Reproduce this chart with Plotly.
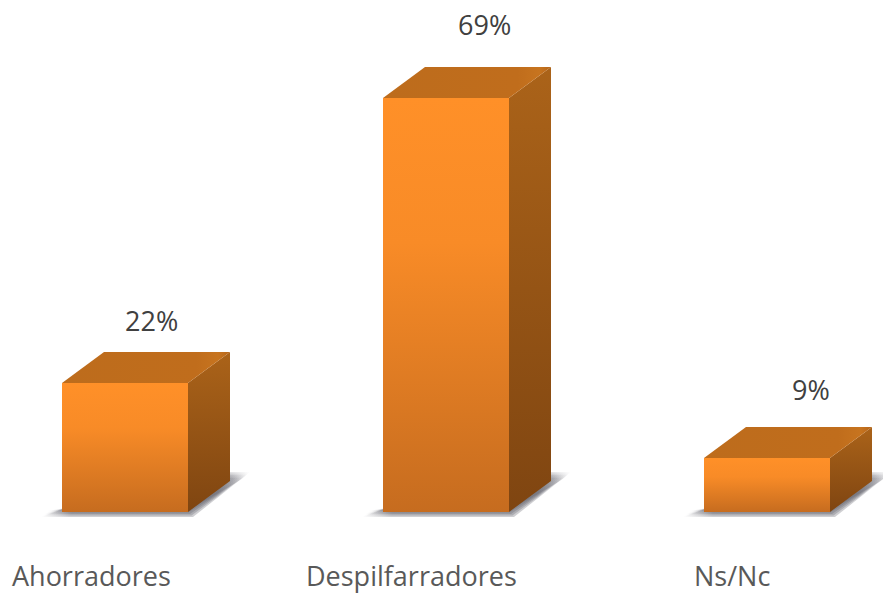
import plotly.graph_objects as go

categories = ["Ahorradores", "Despilfarradores", "Ns/Nc"]
values = [21.5, 69, 9]
value_labels = ["22%", "69%", "9%"]

W, H = 883, 594
PX_X = 321.0      # pixels per category step
PX_Y = 6.0        # pixels per percent
LEFT = 125        # pixel of first category centre
BASE = 512        # pixel of the zero line

BAR_W = 126 / PX_X
DX = 42 / PX_X
DY = 31 / PX_Y

label_dx = [26, 38, 44]
label_dy = [63, 74, 69]
cat_dx = [-34, -35, -35]

# plotly gradients run bottom to top, left to right
FRONT = [[0, "#c66c1f"], [0.65, "#f88b27"], [1, "#ff9028"]]
SIDE = [[0, "#7f4511"], [1, "#ab6319"]]
TOP = [[0, "#bd6c1c"], [0.8, "#c06d1c"], [0.93, "#c7741f"], [1, "#b5651a"]]

fig = go.Figure()
xs = list(range(len(values)))


def poly(px, py, scale, orient="vertical", name=""):
    fig.add_trace(go.Scatter(
        x=px + px[:1], y=py + py[:1], mode="lines", fill="toself",
        line=dict(width=0), hoverinfo="skip", showlegend=False, name=name,
        fillgradient=dict(type=orient, colorscale=scale),
    ))


# soft ground shadow, built from stacked translucent layers
for layer in range(5):
    g = 5 - layer * 1.5
    a = 0.3
    c = "95,95,105"
    shadow = [[0, f"rgba({c},0)"], [0.14, f"rgba({c},{a})"],
              [0.85, f"rgba({c},{a})"], [1, f"rgba({c},0)"]]
    for x0, v in zip(xs, values):
        l = x0 - BAR_W / 2
        r = x0 + BAR_W / 2
        poly([l - (16 + g) / PX_X, r + g / PX_X, r + (57 + g) / PX_X, r + 40 / PX_X, l + 4 / PX_X],
             [-g / PX_Y, -g / PX_Y, (35 + g) / PX_Y, (35 + g) / PX_Y, 4 / PX_Y],
             shadow, "horizontal", "shadow")

# front faces as real bars
fig.add_trace(go.Bar(x=xs, y=values, width=BAR_W, marker=dict(color="#e07c24", line=dict(width=0)),
                     hoverinfo="skip", showlegend=False, name="front"))

for x0, v in zip(xs, values):
    l = x0 - BAR_W / 2
    r = x0 + BAR_W / 2
    poly([l, r, r, l], [0, 0, v, v], FRONT, "vertical", "front")
    poly([r, r + DX, r + DX, r], [0, DY, v + DY, v], SIDE, "vertical", "side")
    poly([l, l + DX, r + DX, r], [v, v + DY, v + DY, v], TOP, "horizontal", "top")

annotations = []
for x0, v, t, dx, dy in zip(xs, values, value_labels, label_dx, label_dy):
    annotations.append(dict(x=x0, y=v, text=t, showarrow=False, xshift=dx, yshift=dy,
                            xanchor="center", yanchor="middle",
                            font=dict(family="Open Sans", size=27, color="#404040")))
for x0, t, dx in zip(xs, categories, cat_dx):
    annotations.append(dict(x=x0, y=0, text=t, showarrow=False, xshift=dx, yshift=-63.5,
                            xanchor="center", yanchor="middle",
                            font=dict(family="Open Sans", size=27, color="#595959")))

fig.update_layout(
    width=W, height=H, margin=dict(l=0, r=0, t=0, b=0),
    paper_bgcolor="white", plot_bgcolor="white",
    xaxis=dict(range=[-LEFT / PX_X, (W - LEFT) / PX_X], visible=False),
    yaxis=dict(range=[-(H - BASE) / PX_Y, BASE / PX_Y], visible=False),
    annotations=annotations,
)
fig.write_html("out.html", config=dict(displayModeBar=False),
               post_script="document.body.style.margin='0';")
